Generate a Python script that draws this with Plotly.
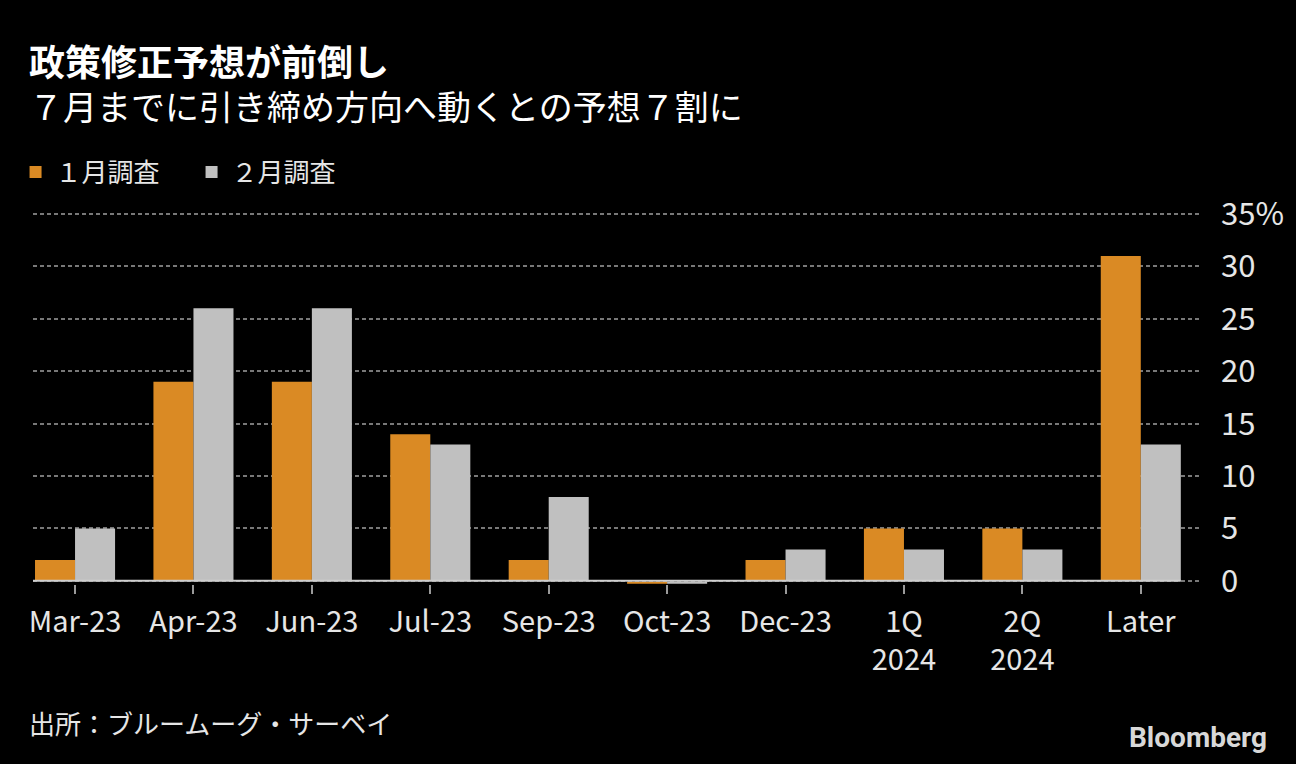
import plotly.graph_objects as go

# ---- data ----
categories = ["Mar-23", "Apr-23", "Jun-23", "Jul-23", "Sep-23", "Oct-23",
              "Dec-23", "1Q<br>2024", "2Q<br>2024", "Later"]
jan_survey = [2, 19, 19, 14, 2, 0, 2, 5, 5, 31]   # １月調査
feb_survey = [5, 26, 26, 13, 8, 0, 3, 3, 3, 13]   # ２月調査
y_tick_vals = [0, 5, 10, 15, 20, 25, 30, 35]
y_tick_text = ["0", "5", "10", "15", "20", "25", "30", "35%"]

ORANGE = "#DA8A24"
GRAY = "#C0C0C0"
FONT = "Noto Sans CJK JP"
TXT = "#E6E6E6"

BARGAP = 0.324
half = (1 - BARGAP) / 2

fig = go.Figure()
fig.add_trace(go.Bar(x=categories, y=jan_survey, name="１月調査",
                     marker=dict(color=ORANGE, line=dict(width=0))))
fig.add_trace(go.Bar(x=categories, y=feb_survey, name="２月調査",
                     marker=dict(color=GRAY, line=dict(width=0))))

# zero-valued bars are drawn by Bloomberg as a thin line just under the axis
shapes = []
for series, color, off0, off1 in ((jan_survey, ORANGE, -half, 0), (feb_survey, GRAY, 0, half)):
    for i, v in enumerate(series):
        if v == 0:
            shapes.append(dict(type="line", xref="x", yref="y", ysizemode="pixel",
                               yanchor=v, x0=i + off0, x1=i + off1, y0=-2, y1=-2,
                               line=dict(color=color, width=2), layer="above"))
shapes.append(dict(type="line", xref="x", yref="y",
                   x0=-0.355, x1=len(categories) - 1 + half, y0=0, y1=0,
                   line=dict(color="#CFCFCF", width=2), layer="above"))

Y_MIN, Y_MAX = -0.3, 35.1
PX_PER_UNIT = (581 - 214) / 35
PLOT_BOTTOM = 581 + (0 - Y_MIN) * PX_PER_UNIT
PLOT_TOP = 214 - (Y_MAX - 35) * PX_PER_UNIT
PH = PLOT_BOTTOM - PLOT_TOP

def py(pix):
    return (PLOT_BOTTOM - pix) / PH

fig.update_layout(
    width=1296, height=764,
    paper_bgcolor="black", plot_bgcolor="black",
    margin=dict(l=33, r=96, t=PLOT_TOP, b=764 - PLOT_BOTTOM, autoexpand=False),
    barmode="group", bargap=BARGAP, bargroupgap=0,
    font=dict(family=FONT, color=TXT, size=26),
    showlegend=True,
    legend=dict(
        orientation="h", xref="container", yref="container",
        x=0.012, y=1 - 172 / 764, xanchor="left", yanchor="middle",
        font=dict(size=26, color=TXT, family=FONT),
        bgcolor="rgba(0,0,0,0)", traceorder="normal",
        entrywidth=131, entrywidthmode="pixels",
    ),
    xaxis=dict(
        type="category", range=[-0.355, 9.5],
        showgrid=False, zeroline=False, showline=False,
        ticks="outside", ticklen=9, tickwidth=2, tickcolor="#9A9A9A",
        ticklabelstandoff=3,
        tickfont=dict(size=29, color=TXT, family=FONT),
        fixedrange=True,
    ),
    yaxis=dict(
        side="right", range=[Y_MIN, Y_MAX],
        tickvals=y_tick_vals, ticktext=y_tick_text,
        showgrid=True, gridcolor="#787878", gridwidth=1.5, griddash="4px,3px",
        zeroline=False, showline=False, ticks="",
        ticklabelstandoff=20,
        tickfont=dict(size=31, color=TXT, family=FONT),
        fixedrange=True,
    ),
    shapes=shapes,
    annotations=[
        dict(text="<b><span style='font-size:36px'>政策修正予想が前倒し</span></b><br>"
                  "７月までに引き締め方向へ動くとの予想７割に",
             xref="paper", yref="paper", align="left",
             x=-0.005, y=py(82), xanchor="left", yanchor="middle",
             showarrow=False, font=dict(size=34, color="white", family=FONT)),
        dict(text="出所：ブルームーグ・サーベイ", xref="paper", yref="paper",
             x=-0.005, y=py(723), xanchor="left", yanchor="middle",
             showarrow=False, font=dict(size=26, color=TXT, family=FONT)),
        dict(text="<b>Bloomberg</b>", xref="paper", yref="paper",
             x=(1269 - 33) / 1167, y=py(738), xanchor="right", yanchor="middle",
             showarrow=False, font=dict(size=28, color="#D8D8D8", family="Roboto")),
    ],
)

fig.write_html("out.html", config={"displayModeBar": False},
               post_script="document.body.style.margin='0';")
